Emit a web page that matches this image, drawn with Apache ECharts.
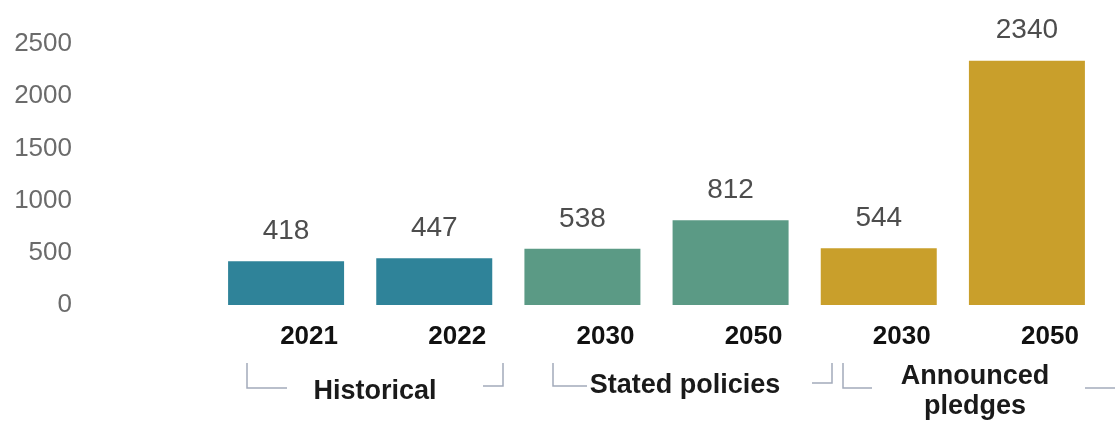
<!DOCTYPE html>
<html>
<head>
<meta charset="utf-8">
<script src="https://cdn.jsdelivr.net/npm/echarts@6/dist/echarts.min.js"></script>
<style>
  html, body { margin: 0; padding: 0; background: #fff; }
  #chart { width: 1115px; height: 423px; }
</style>
</head>
<body>
<div id="chart"></div>
<script>
// data
const years = ['2021', '2022', '2030', '2050', '2030', '2050']
const values = [418, 447, 538, 812, 544, 2340]
const groupOfBar = [0, 0, 1, 1, 2, 2]
const groups = ['Historical', 'Stated policies', 'Announced\npledges']
const groupColors = ['#2f8399', '#5b9a85', '#c99f2b']

const chart = echarts.init(document.getElementById('chart'))

const bracketStyle = { stroke: '#a3abbb', lineWidth: 1.5, fill: null }
function bracket(points) {
  return { type: 'polyline', shape: { points }, style: bracketStyle, silent: true }
}
function groupText(text, x, y) {
  return {
    type: 'text', x, y,
    style: {
      text, fill: '#1a1a1a', font: 'bold 27px "Liberation Sans", Arial, sans-serif',
      align: 'center', verticalAlign: 'middle', lineHeight: 30
    }
  }
}

chart.setOption({
  animation: false,
  grid: { left: 212, right: 14, top: 44, bottom: 118 },
  xAxis: {
    type: 'category',
    data: years,
    axisLine: { show: false },
    axisTick: { show: false },
    axisLabel: {
      color: '#111',
      fontWeight: 'bold',
      fontSize: 26,
      fontFamily: '"Liberation Sans", Arial, sans-serif',
      margin: 19,
      padding: [0, 0, 0, 46]
    }
  },
  yAxis: {
    type: 'value',
    min: 0, max: 2500, interval: 500,
    splitLine: { show: false },
    axisLine: { show: false },
    axisTick: { show: false },
    axisLabel: {
      color: '#6b6b6b',
      fontSize: 26,
      fontFamily: '"Liberation Sans", Arial, sans-serif',
      margin: 140,
      formatter: v => String(v)
    }
  },
  series: [{
    type: 'bar',
    barWidth: 116,
    data: values.map((v, i) => ({ value: v, itemStyle: { color: groupColors[groupOfBar[i]] } })),
    label: {
      show: true,
      position: 'top',
      distance: 16,
      color: '#4d4d4d',
      fontSize: 28,
      fontFamily: '"Liberation Sans", Arial, sans-serif'
    }
  }],
  graphic: [
    bracket([[247, 363], [247, 388], [287, 388]]),
    bracket([[483, 386], [503, 386], [503, 363]]),
    bracket([[553, 363], [553, 386], [587, 386]]),
    bracket([[812, 383], [832, 383], [832, 363]]),
    bracket([[843, 363], [843, 388], [872, 388]]),
    bracket([[1085, 388], [1115, 388]]),
    groupText(groups[0], 375, 392),
    groupText(groups[1], 685, 386),
    groupText(groups[2], 975, 392)
  ]
})
</script>
</body>
</html>
